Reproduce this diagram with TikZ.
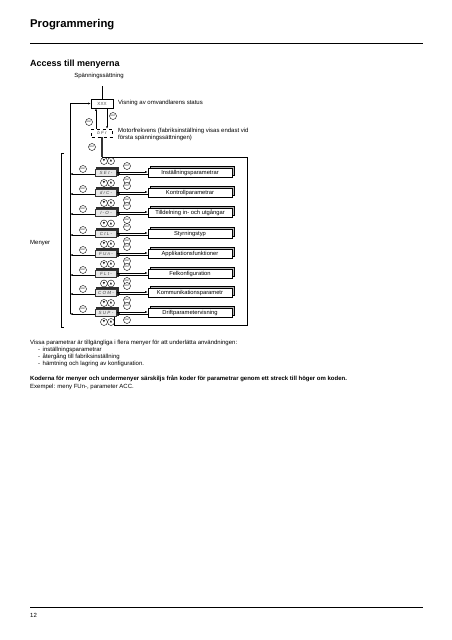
\documentclass[tikz,border=0pt]{standalone}
\usepackage{fontspec}
\setmainfont{Liberation Sans}
\newfontfamily\symfont{DejaVu Sans}
\usetikzlibrary{arrows.meta,shadows,calc,backgrounds}
\tikzset{
  txt/.style={font=\fontsize{6}{7}\selectfont, inner sep=0, anchor=base west},
  btn/.style={circle, draw, line width=0.4pt, minimum size=7pt, inner sep=0, fill=white, font=\fontsize{2.3}{2.3}\selectfont},
  navbtn/.style={circle, draw, line width=0.4pt, minimum size=7pt, inner sep=0, fill=white, font=\symfont\fontsize{3}{3}\selectfont},
  codebox/.style={draw=gray!45!black, line width=1.2pt, fill=gray!18, minimum width=21pt, minimum height=7pt, inner sep=0, text=gray!55!black, font=\fontsize{4.5}{5}\selectfont\itshape,
     copy shadow={shadow xshift=1.5pt, shadow yshift=1.5pt, fill=gray!45, draw=gray!35!black}},
  parbox/.style={draw, line width=0.6pt, fill=white, minimum width=84pt, minimum height=9pt, inner sep=0, font=\fontsize{5.8}{6}\selectfont,
     copy shadow={shadow xshift=2.3pt, shadow yshift=2.3pt, fill=gray!55, draw=black, line width=0.8pt}},
  arr/.style={-{Latex[length=2.5pt,width=2pt]}, line width=0.5pt},
  ln/.style={line width=0.5pt},
}
\begin{document}
\begin{tikzpicture}[x=1pt,y=-1pt]
\fill[white] (0,0) rectangle (452,640);
\useasboundingbox (0,0) rectangle (452,640);

% headings
\node[inner sep=0, anchor=base west, font=\fontsize{11.3}{13}\selectfont\bfseries] (title) at (30,27) {Programmering};
\coordinate (r1a) at (30,43); \coordinate (r1b) at (423,43);
\draw[line width=0.8pt] (r1a) -- (r1b);
\node[inner sep=0, anchor=base west, font=\fontsize{9}{11}\selectfont\bfseries] (sub) at (30,66) {Access till menyerna};

% power up and status
\node[txt, anchor=base] (pwr) at (99,77) {Spänningssättning};
\coordinate (pu) at (102,86);
\node[draw, line width=0.6pt, minimum width=22pt, minimum height=9pt, inner sep=0, font=\fontsize{4.5}{5}\selectfont, text=gray!60!black] (xxx) at (102,103.5) {XXX};
\draw[ln] (pu) -- (xxx.north);
\node[txt] (vis) at (118,104) {Visning av omvandlarens status};

\node[draw, dashed, line width=0.5pt, minimum width=21pt, minimum height=8pt, inner sep=0, font=\fontsize{4.5}{5}\selectfont\itshape, text=gray!55!black] (bfr) at (102,133) {b F r};
\node[txt] (mf1) at (118,132) {Motorfrekvens (fabriksinställning visas endast vid};
\node[txt] (mf2) at (118,139.5) {första spänningssättningen)};

\draw[arr] ([xshift=5pt]xxx.south) -- ([xshift=5pt]bfr.north);
\draw[arr] ([xshift=-6pt]bfr.north) -- ([xshift=-6pt]xxx.south);
\node[btn] (ent0) at (113,116) {ENT};
\node[btn] (esc0) at (89,122) {ESC};

\coordinate (B1) at (102,157);
\coordinate (T1) at (247,157);
\coordinate (T2) at (247,325);
\coordinate (T3) at (114,325);
\draw[line width=1.3pt, gray!40!black] (bfr.south) -- (B1);
\node[btn] (ent00) at (92,147) {ENT};

% menus
\foreach \i/\r/\c/\p in {1/173/S E t -/Inställningsparametrar,
                          2/193/d r C -/Kontrollparametrar,
                          3/213/I - O -/Tilldelning in- och utgångar,
                          4/234/C t L -/Styrningstyp,
                          5/254/F U n -/Applikationsfunktioner,
                          6/274/F L t -/Felkonfiguration,
                          7/293/C O M -/Kommunikationsparametr,
                          8/313/S U P -/Driftparametervisning}{
  \node[parbox] (p\i) at (190,\r) {\p};
  \node[codebox] (c\i) at (106,\r) {\c};
  \draw[arr] ([yshift=1pt]c\i.east) -- ([yshift=1pt]p\i.west);
  \draw[arr] ([yshift=-1pt]p\i.west) -- ([yshift=-1pt]c\i.east);
  \node[btn] (ent\i) at (127,\r-7) {ENT};
  \node[btn] (esc\i) at (127,\r+7) {ESC};
  \coordinate (L\i) at (70,\r+1);
  \draw[arr] ([yshift=-1pt]c\i.west) -- (L\i);
  \node[btn] (lesc\i) at (83,\r-4) {ESC};
}
\foreach \j/\y in {0/161,1/183,2/203,3/223.5,4/244,5/264,6/283.5,7/303,8/322}{
  \node[navbtn] (dn\j) at (104,\y) {▼};
  \node[navbtn] (up\j) at (111,\y) {▲};
}
\draw[ln] (B1) -- (T1) -- (T2) -- (T3) -- (T3 |- c8.south);
\draw[arr] (L8) |- (xxx.west);

% bracket
\coordinate (k1) at (64,153); \coordinate (k2) at (61,153);
\coordinate (k3) at (61,327); \coordinate (k4) at (64,327);
\draw[ln] (k1) -- (k2) -- (k3) -- (k4);
\node[txt] (men) at (30,244) {Menyer};

% text
\node[txt] (t1) at (30,344) {Vissa parametrar är tillgängliga i flera menyer för att underlätta användningen:};
\node[txt] (t2) at (38,351) {-\hspace{2.5pt}inställningsparametrar};
\node[txt] (t3) at (38,358) {-\hspace{2.5pt}återgång till fabriksinställning};
\node[txt] (t4) at (38,365) {-\hspace{2.5pt}hämtning och lagring av konfiguration.};
\node[txt, font=\fontsize{6}{7}\selectfont\bfseries] (t5) at (30,380) {Koderna för menyer och undermenyer särskiljs från koder för parametrar genom ett streck till höger om koden.};
\node[txt] (t6) at (30,388) {Exempel: meny FUn-, parameter ACC.};

% footer
\coordinate (r2a) at (30,607); \coordinate (r2b) at (423,607);
\draw[line width=0.8pt] (r2a) -- (r2b);
\node[txt] (pg) at (30,617) {12};
\end{tikzpicture}
\end{document}
